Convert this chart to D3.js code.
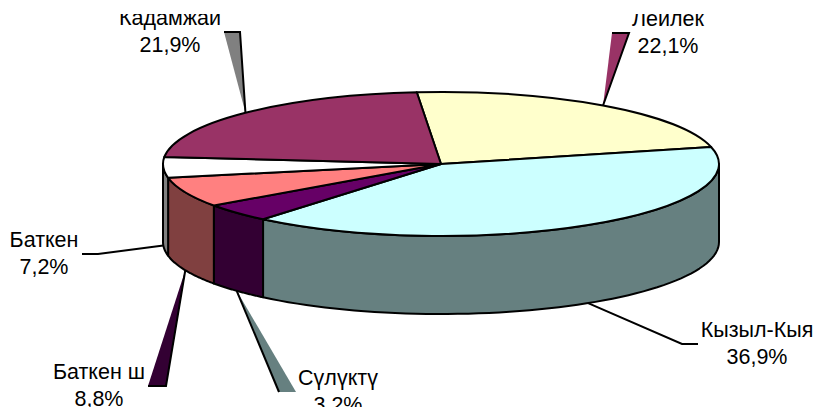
<!DOCTYPE html>
<html>
<head>
<meta charset="utf-8">
<script src="https://cdn.jsdelivr.net/npm/d3@7"></script>
<style>
html, body { margin: 0; padding: 0; background: #fff; }
svg { display: block; }
text { font-family: "Liberation Sans", Arial, sans-serif; font-size: 21.5px; fill: #000; text-anchor: middle; }
</style>
</head>
<body>
<div id="chart"></div>
<script>
var names = ['Лейлек', 'Кызыл-Кыя', 'Сүлүктү', 'Баткен ш', 'Баткен', 'Кадамжай'];
var values = [22.1, 36.9, 3.2, 8.8, 7.2, 21.9];
var percentLabels = ['22,1%', '36,9%', '3,2%', '8,8%', '7,2%', '21,9%'];
var topColors = ['#ffffcc', '#ccffff', '#660066', '#ff8080', '#ffffff', '#993366'];
var wedgeColors = ['#993366', 'none', '#668080', '#330033', 'none', '#808080'];

var width = 814, height = 407;
var cx = 441, cy = 164, rx = 278, ry = 72, depth = 78;
var rad = Math.PI / 180;

var svg = d3.select('#chart').append('svg')
    .attr('width', width)
    .attr('height', height);

// labels are cut off at the top of the plot area in the original
svg.append('clipPath').attr('id', 'labelClip')
    .append('rect')
    .attr('x', 0).attr('y', 14)
    .attr('width', width).attr('height', height - 14);

var arcs = d3.pie().sort(null).value(function (d) { return d; })(values);

// the 3D perspective stretches the front of the pie, so shares are mapped
// to the slice borders measured on the ellipse
var borders = [arcs[0].startAngle].concat(arcs.map(function (d) { return d.endAngle; }));
var warp = d3.scaleLinear()
    .domain(borders)
    .range([-5, 76.3, 219.8, 234.8, 259, 275.6, 355].map(function (d) { return d * rad; }));

arcs.forEach(function (d) {
    d.a0 = warp(d.startAngle);
    d.a1 = warp(d.endAngle);
    d.mid = (d.a0 + d.a1) / 2;
});

function px(a) { return cx + rx * Math.sin(a); }
function py(a) { return cy - ry * Math.cos(a); }

function halfTone(c) {
    var k = d3.rgb(c);
    return d3.rgb(k.r / 2, k.g / 2, k.b / 2).formatHex();
}

var rimLine = d3.line()
    .x(function (a) { return px(a); })
    .y(function (a) { return py(a); });

var baseLine = d3.line()
    .x(function (a) { return px(a); })
    .y(function (a) { return py(a) + depth; });

// side walls, only the front half of the ellipse shows
var walls = svg.append('g').attr('class', 'walls');
arcs.forEach(function (d, i) {
    var from = Math.max(d.a0, 90 * rad), to = Math.min(d.a1, 270 * rad);
    if (from >= to) return;
    var steps = d3.range(0, 61).map(function (k) { return from + (to - from) * k / 60; });
    walls.append('path')
        .attr('d', rimLine(steps) + 'L' + baseLine(steps.slice().reverse()).slice(1) + 'Z')
        .attr('fill', halfTone(topColors[i]))
        .attr('stroke', '#000')
        .attr('stroke-width', 2)
        .attr('stroke-linejoin', 'round');
});

var arc = d3.arc().innerRadius(0).outerRadius(rx);
svg.append('g')
    .attr('transform', 'translate(' + cx + ',' + cy + ') scale(1,' + (ry / rx) + ')')
    .selectAll('path')
    .data(arcs)
    .enter()
    .append('path')
    .attr('d', function (d) { return arc({startAngle: d.a0, endAngle: d.a1}); })
    .attr('fill', function (d, i) { return topColors[i]; })
    .attr('stroke', '#000')
    .attr('stroke-width', 2)
    .attr('stroke-linejoin', 'round')
    .attr('vector-effect', 'non-scaling-stroke');

// leader ends beside each label, same order as names
var leaders = [
    {a: [629, 33], b: [612, 33], x: 668, y: 26},
    {a: [682, 344], b: [698, 344], x: 757, y: 337},
    {a: [279, 392], b: [296, 392], x: 338, y: 385},
    {a: [166, 386], b: [148, 386], x: 99, y: 379},
    {a: [98, 254], b: [82, 254], x: 44, y: 247},
    {a: [240, 32], b: [224, 32], x: 170, y: 25}
];

var leaderLine = d3.line();
arcs.forEach(function (d, i) {
    var l = leaders[i];
    var front = Math.cos(d.mid) < 0 || i === 4;
    var apex = [px(d.mid), py(d.mid) + (front ? depth : 0)];
    if (wedgeColors[i] !== 'none') {
        svg.append('path')
            .attr('d', leaderLine([apex, l.a, l.b]) + 'Z')
            .attr('fill', wedgeColors[i]);
    }
    svg.append('path')
        .attr('d', i === 2 ? leaderLine([apex, l.a]) : leaderLine([apex, l.a, l.b]))
        .attr('fill', 'none')
        .attr('stroke', '#000')
        .attr('stroke-width', 2);
});

var labels = svg.append('g').attr('clip-path', 'url(#labelClip)');
names.forEach(function (name, i) {
    var l = leaders[i];
    labels.append('text').attr('x', l.x).attr('y', l.y).text(name);
    labels.append('text').attr('x', l.x).attr('y', l.y + 27).text(percentLabels[i]);
});
</script>
</body>
</html>
